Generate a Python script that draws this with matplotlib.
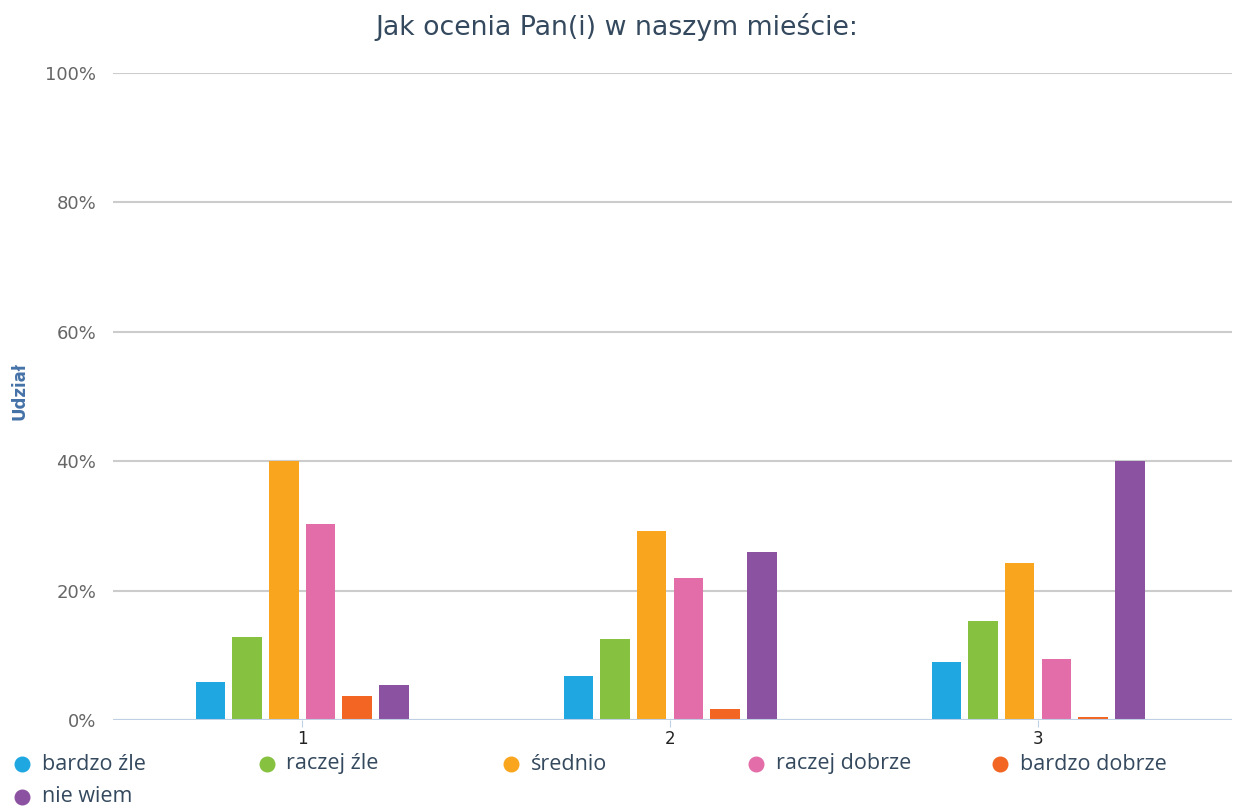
import matplotlib
matplotlib.use("Agg")
import matplotlib.pyplot as plt
from matplotlib.lines import Line2D
import numpy as np

categories = ["1", "2", "3"]
series_names = ["bardzo źle", "raczej źle", "średnio", "raczej dobrze", "bardzo dobrze", "nie wiem"]
bardzo_zle = [5.9, 6.8, 8.9]
raczej_zle = [12.8, 12.5, 15.3]
srednio = [40.0, 29.2, 24.2]
raczej_dobrze = [30.3, 21.9, 9.4]
bardzo_dobrze = [3.7, 1.7, 0.5]
nie_wiem = [5.4, 26.0, 40.0]
values = [bardzo_zle, raczej_zle, srednio, raczej_dobrze, bardzo_dobrze, nie_wiem]
yticks = [0, 20, 40, 60, 80, 100]
ytick_labels = ["0%", "20%", "40%", "60%", "80%", "100%"]
colors = ["#1ea7e1", "#86c140", "#f9a61e", "#e36da8", "#f26522", "#8c52a2"]

plt.rcParams['font.family'] = ['DejaVu Sans']

W, H = 1234, 809
fig = plt.figure(figsize=(W / 100, H / 100), dpi=100)
ax = fig.add_axes([113 / W, 89 / H, (1232 - 113) / W, (736 - 89) / H])

x = np.arange(len(categories))
step = 0.0997
width = 0.08
for i, (name, vals) in enumerate(zip(series_names, values)):
    ax.bar(x + (i - 2.5) * step, vals, width=width, color=colors[i], zorder=3, label=name)

ax.set_xlim(-0.514, 2.527)
ax.set_ylim(0, 100)
ax.set_yticks(yticks)
ax.set_yticklabels(ytick_labels, color="#666666", fontsize=13)
ax.set_xticks(x)
ax.set_xticklabels(categories, color="#222222", fontsize=12)
ax.tick_params(axis='y', length=0, pad=12)
ax.tick_params(axis='x', length=5, color="#c0d0e4", pad=2)
ax.grid(axis='y', color="#cccccc", linewidth=1.5, zorder=0)
ax.axhline(0, color="#c0d0e4", linewidth=1.5, zorder=4)
for s in ax.spines.values():
    s.set_visible(False)

fig.text(19 / W, 1 - 391 / H, "Udział", rotation=90, ha="center", va="center",
         color="#4572a7", fontsize=12, fontweight="bold")

fig.text(617 / W, 1 - 27 / H, "Jak ocenia Pan(i) w naszym mieście:", ha="center", va="center",
         fontsize=19.3, color="#34495e")

# legend
for i, name in enumerate(series_names):
    row, col = divmod(i, 5)
    px = 22 + col * 244.5
    py = 764 + row * 33
    fig.add_artist(Line2D([px / W], [1 - py / H], marker='o', markersize=10.5, color=colors[i],
                          linestyle='none', transform=fig.transFigure))
    fig.text((px + 20) / W, 1 - py / H, name, ha="left", va="center", fontsize=15.5,
             color="#34495e", family=["Open Sans", "DejaVu Sans"])

fig.savefig("out.png", dpi=100, facecolor="white")
